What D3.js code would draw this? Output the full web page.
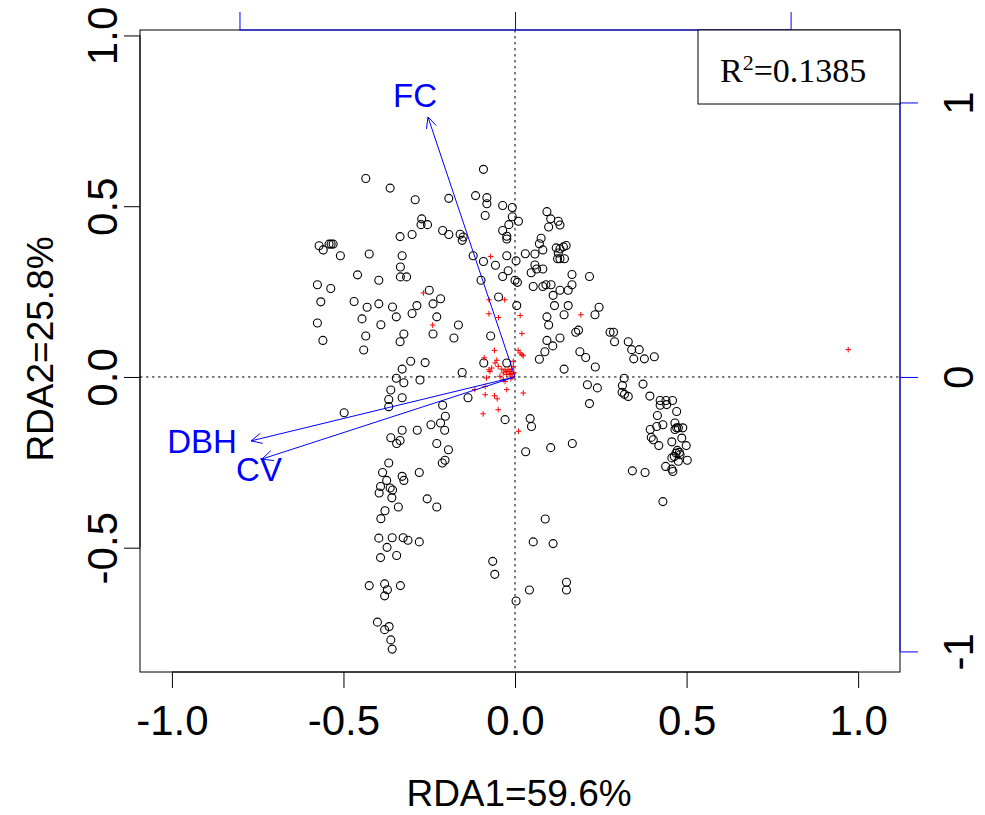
<!DOCTYPE html>
<html><head><meta charset="utf-8">
<script src="https://cdn.jsdelivr.net/npm/d3@7"></script>
<style>body{margin:0;background:#fff}svg{display:block}</style>
</head><body>
<script>
// ---- data ----
const siteX = [-0.435,-0.364,-0.291,-0.272,-0.274,-0.255,-0.335,-0.300,-0.571,-0.559,-0.542,-0.536,-0.530,-0.509,-0.425,-0.329,-0.334,-0.334,-0.316,-0.459,-0.397,-0.576,-0.537,-0.566,-0.469,-0.431,-0.397,-0.357,-0.286,-0.300,-0.346,-0.446,-0.391,-0.576,-0.560,-0.435,-0.441,-0.324,-0.335,-0.304,-0.329,-0.346,-0.324,-0.277,-0.362,-0.368,-0.329,-0.368,-0.498,
-0.092,-0.193,-0.115,-0.082,-0.082,-0.087,-0.036,-0.008,-0.008,-0.018,-0.036,-0.024,-0.024,0.010,-0.211,-0.193,-0.160,-0.151,-0.154,-0.122,-0.092,-0.057,-0.024,0.003,-0.020,-0.036,-0.099,0.000,-0.250,-0.217,-0.048,-0.239,-0.228,-0.165,-0.239,-0.178,-0.071,0.005,-0.262,-0.091,-0.024,-0.154,-0.137,-0.211,-0.203,-0.029,
0.093,0.104,0.126,0.131,0.098,0.076,0.071,0.081,0.030,0.058,0.120,0.131,0.141,0.149,0.126,0.124,0.131,0.144,0.058,0.063,0.081,0.047,0.166,0.217,0.007,0.053,0.081,0.090,0.105,0.166,0.131,0.155,0.111,
0.115,0.155,0.245,0.233,0.143,0.093,0.098,0.177,0.185,0.277,0.287,0.290,0.093,0.131,0.110,0.087,0.071,0.189,0.206,0.234,0.143,0.211,0.240,0.217,0.044,0.048,
0.330,0.340,0.362,0.346,0.377,0.406,0.318,0.313,0.373,0.312,0.319,0.330,0.393,0.423,0.440,0.459,0.423,0.442,0.471,0.415,0.431,0.413,0.394,0.466,0.471,0.466,0.476,0.489,0.397,0.403,0.419,0.486,0.457,0.499,0.473,0.479,0.469,0.464,0.481,0.502,0.457,0.476,0.439,0.457,0.460,0.342,0.379,0.431,
-0.217,-0.205,-0.245,-0.285,-0.329,-0.362,-0.335,-0.345,-0.228,-0.194,-0.204,-0.212,-0.368,-0.386,-0.279,-0.329,-0.324,-0.374,-0.392,-0.396,-0.364,-0.357,-0.359,-0.340,-0.256,-0.228,-0.379,-0.391,
-0.397,-0.358,-0.326,-0.312,-0.279,-0.373,-0.392,-0.345,-0.425,-0.380,-0.372,-0.380,-0.334,-0.401,-0.367,-0.380,-0.362,-0.358,
0.031,0.104,0.167,0.088,0.053,0.111,-0.065,-0.059,0.150,0.150,0.042,0.003];
const siteY = [0.581,0.553,0.519,0.463,0.446,0.446,0.411,0.417,0.384,0.372,0.389,0.389,0.389,0.355,0.360,0.355,0.322,0.293,0.293,0.299,0.283,0.270,0.259,0.220,0.221,0.204,0.214,0.205,0.209,0.186,0.176,0.170,0.153,0.158,0.107,0.120,0.079,0.126,0.103,0.046,0.023,-0.004,-0.017,-0.009,-0.038,-0.066,-0.061,-0.087,-0.105,
0.608,0.523,0.531,0.525,0.507,0.473,0.502,0.496,0.469,0.446,0.429,0.412,0.404,0.456,0.429,0.417,0.418,0.410,0.400,0.355,0.338,0.327,0.355,0.340,0.311,0.294,0.283,0.283,0.254,0.229,0.234,0.214,0.176,0.152,0.126,0.114,0.120,0.209,0.042,0.041,0.041,0.013,-0.061,-0.083,-0.115,-0.125,
0.484,0.463,0.456,0.445,0.439,0.406,0.390,0.372,0.361,0.360,0.378,0.375,0.381,0.385,0.363,0.346,0.346,0.346,0.328,0.316,0.316,0.305,0.300,0.294,0.277,0.265,0.265,0.270,0.270,0.270,0.254,0.254,0.239,
0.209,0.209,0.204,0.182,0.182,0.176,0.152,0.131,0.137,0.131,0.131,0.103,0.107,0.114,0.091,0.074,0.052,0.074,0.057,0.029,0.023,-0.023,-0.032,-0.078,-0.122,-0.145,
0.103,0.080,0.080,0.053,0.053,0.059,-0.004,-0.025,-0.021,-0.045,-0.051,-0.057,-0.056,-0.069,-0.069,-0.069,-0.083,-0.081,-0.101,-0.113,-0.140,-0.145,-0.154,-0.135,-0.149,-0.154,-0.149,-0.149,-0.177,-0.184,-0.201,-0.179,-0.190,-0.201,-0.215,-0.221,-0.223,-0.233,-0.228,-0.244,-0.237,-0.247,-0.262,-0.270,-0.277,-0.275,-0.280,-0.365,
-0.135,-0.156,-0.140,-0.156,-0.156,-0.178,-0.186,-0.195,-0.195,-0.213,-0.244,-0.252,-0.252,-0.280,-0.280,-0.291,-0.303,-0.303,-0.321,-0.340,-0.325,-0.331,-0.354,-0.381,-0.357,-0.381,-0.392,-0.415,
-0.472,-0.471,-0.471,-0.478,-0.483,-0.499,-0.529,-0.523,-0.611,-0.606,-0.623,-0.641,-0.611,-0.718,-0.731,-0.740,-0.770,-0.797,
-0.219,-0.207,-0.195,-0.416,-0.483,-0.488,-0.540,-0.578,-0.601,-0.624,-0.624,-0.656];
const speciesX = [0.971,-0.071,-0.267,-0.240,-0.076,-0.030,-0.076,-0.048,0.015,0.020,0.192,-0.060,0.009,0.015,0.020,0.024,-0.090,-0.053,-0.005,-0.058,-0.068,-0.049,-0.039,-0.029,-0.024,-0.020,-0.015,-0.010,-0.005,-0.034,-0.024,-0.015,-0.044,-0.073,-0.083,-0.034,-0.029,-0.087,-0.117,-0.087,-0.060,-0.052,-0.024,-0.049,-0.093,0.024,0.010,-0.076,-0.012,-0.008,-0.003,-0.012];
const speciesY = [0.080,0.353,0.246,0.152,0.226,0.226,0.185,0.174,0.180,0.127,0.182,0.078,0.078,0.070,0.065,0.062,0.056,0.049,0.046,0.041,0.026,0.031,0.023,0.021,0.016,0.021,0.016,0.023,0.031,0.012,0.007,0.007,0.002,0.016,-0.003,-0.008,-0.013,-0.028,-0.037,-0.052,-0.055,-0.064,-0.037,-0.096,-0.108,-0.047,-0.159,0.021,0.010,0.000,0.012,-0.005];
const envNames = ["FC","DBH","CV"];
const envX = [-0.316,-0.958,-0.918];
const envY = [0.947,-0.233,-0.299];
const envLabelX = [-0.363,-1.136,-0.929];
const envLabelY = [1.024,-0.237,-0.339];
const xTicks = [-1.0,-0.5,0.0,0.5,1.0];
const yTicks = [-0.5,0.0,0.5,1.0];
const x2Ticks = [-1,0,1];
const y2Ticks = [-1,0,1];
const xTitle = "RDA1=59.6%";
const yTitle = "RDA2=25.8%";
const r2Value = "0.1385";

// ---- layout ----
const W = 985, H = 815;
const L = 140, R = 900, T = 30, B = 672;
const sans = "'Liberation Sans', Arial, sans-serif";
const blue = "#0000ff";

const x = d3.scaleLinear().domain([-1.093, 1.122]).range([L, R]);
const y = d3.scaleLinear().domain([-0.864, 1.016]).range([B, T]);
const x2 = d3.scaleLinear().domain([-1.361, 1.397]).range([L, R]);
const y2 = d3.scaleLinear().domain([-1.075, 1.264]).range([B, T]);

const svg = d3.select("body").append("svg").attr("width", W).attr("height", H);

// reference lines
svg.append("line").attr("x1", L).attr("x2", R).attr("y1", y(0)).attr("y2", y(0))
  .attr("stroke", "#000").attr("stroke-width", 1).attr("stroke-dasharray", "2.5,3.5");
svg.append("line").attr("x1", x(0)).attr("x2", x(0)).attr("y1", T).attr("y2", B)
  .attr("stroke", "#000").attr("stroke-width", 1).attr("stroke-dasharray", "2.5,3.5");

// sites
svg.append("g").selectAll("circle").data(siteX.map((v, i) => [v, siteY[i]])).join("circle")
  .attr("cx", d => x(d[0])).attr("cy", d => y(d[1])).attr("r", 4.0)
  .attr("fill", "none").attr("stroke", "#000").attr("stroke-width", 1.1);

// species
const sp = svg.append("g").attr("stroke", "#ff0000").attr("stroke-width", 1);
speciesX.forEach((v, i) => {
  const cx = x(v), cy = y(speciesY[i]);
  sp.append("path").attr("d", `M${cx - 2.8},${cy}H${cx + 2.8}M${cx},${cy - 2.8}V${cy + 2.8}`);
});

// arrows
const ag = svg.append("g").attr("stroke", blue).attr("stroke-width", 1).attr("fill", "none");
envX.forEach((v, i) => {
  const x0 = x2(0), y0 = y2(0), x1 = x2(v), y1 = y2(envY[i]);
  ag.append("line").attr("x1", x0).attr("y1", y0).attr("x2", x1).attr("y2", y1);
  const a = Math.atan2(y1 - y0, x1 - x0), len = 12, sp2 = Math.PI / 7;
  ag.append("path").attr("d",
    `M${x1 - len * Math.cos(a - sp2)},${y1 - len * Math.sin(a - sp2)}L${x1},${y1}L${x1 - len * Math.cos(a + sp2)},${y1 - len * Math.sin(a + sp2)}`);
  svg.append("text").attr("x", x2(envLabelX[i])).attr("y", y2(envLabelY[i]))
    .attr("text-anchor", "middle").attr("dominant-baseline", "central")
    .attr("font-family", sans).attr("font-size", 33).attr("fill", blue).text(envNames[i]);
});

// box
svg.append("rect").attr("x", L).attr("y", T).attr("width", R - L).attr("height", B - T)
  .attr("fill", "none").attr("stroke", "#000").attr("stroke-width", 1);

// bottom axis
const gx = svg.append("g").attr("transform", `translate(0,${B})`)
  .call(d3.axisBottom(x).tickValues(xTicks).tickFormat(d3.format(".1f")).tickSize(16).tickSizeOuter(0).tickPadding(36));
gx.select(".domain").remove();
gx.append("line").attr("x1", x(xTicks[0])).attr("x2", x(xTicks[xTicks.length - 1])).attr("stroke", "#000");
gx.selectAll("text").attr("font-family", sans).attr("font-size", 42).attr("fill", "#000")
  .text(d => d3.format(".1f")(d).replace("−", "-")).attr("dy", "0.25em");
gx.selectAll(".tick line").attr("stroke", "#000");

// left axis
const gy = svg.append("g").attr("transform", `translate(${L},0)`)
  .call(d3.axisLeft(y).tickValues(yTicks).tickFormat(d3.format(".1f")).tickSize(16).tickSizeOuter(0));
gy.select(".domain").remove();
gy.append("line").attr("y1", y(yTicks[0])).attr("y2", y(yTicks[yTicks.length - 1])).attr("stroke", "#000");
gy.selectAll(".tick line").attr("stroke", "#000");
gy.selectAll("text").attr("font-family", sans).attr("font-size", 42).attr("fill", "#000")
  .attr("x", null).attr("dy", null).attr("text-anchor", "middle")
  .attr("transform", "translate(-38,0) rotate(-90)").attr("dominant-baseline", "central")
  .text(d => d3.format(".1f")(d).replace("−", "-"));

// top axis (secondary)
const gt = svg.append("g").attr("transform", `translate(0,${T})`)
  .call(d3.axisTop(x2).tickValues(x2Ticks).tickSize(18).tickSizeOuter(0).tickFormat(""));
gt.select(".domain").remove();
gt.append("line").attr("x1", x2(x2Ticks[0])).attr("x2", x2(x2Ticks[x2Ticks.length - 1])).attr("stroke", blue);
gt.selectAll(".tick line").attr("stroke", blue);

// right axis (secondary)
const gr = svg.append("g").attr("transform", `translate(${R},0)`)
  .call(d3.axisRight(y2).tickValues(y2Ticks).tickSize(18).tickSizeOuter(0).tickFormat(d3.format("d")));
gr.select(".domain").remove();
gr.append("line").attr("y1", y2(y2Ticks[0])).attr("y2", y2(y2Ticks[y2Ticks.length - 1])).attr("stroke", blue);
gr.selectAll(".tick line").attr("stroke", blue);
gr.selectAll("text").attr("font-family", sans).attr("font-size", 42).attr("fill", "#000")
  .attr("x", null).attr("dy", null).attr("text-anchor", "middle")
  .attr("transform", "translate(58,0) rotate(-90)").attr("dominant-baseline", "central")
  .text(d => String(d).replace("−", "-"));

// titles
svg.append("text").attr("x", x(0) + 4).attr("y", 806).attr("text-anchor", "middle")
  .attr("font-family", sans).attr("font-size", 37).attr("fill", "#000").text(xTitle);
svg.append("text").attr("transform", `translate(40,${(T + B) / 2 - 2}) rotate(-90)`)
  .attr("text-anchor", "middle").attr("dominant-baseline", "central")
  .attr("font-family", sans).attr("font-size", 37).attr("fill", "#000").text(yTitle);

// R2 box
svg.append("rect").attr("x", 698).attr("y", T).attr("width", R - 698).attr("height", 74)
  .attr("fill", "#fff").attr("stroke", "#000").attr("stroke-width", 1);
const rt = svg.append("text").attr("x", 720).attr("y", 82)
  .attr("font-family", "'Liberation Serif', 'Times New Roman', serif").attr("font-size", 34).attr("fill", "#000");
rt.append("tspan").text("R");
rt.append("tspan").attr("font-size", 22).attr("dy", -12).text("2");
rt.append("tspan").attr("dy", 12).text("=" + r2Value);
</script>
</body></html>
